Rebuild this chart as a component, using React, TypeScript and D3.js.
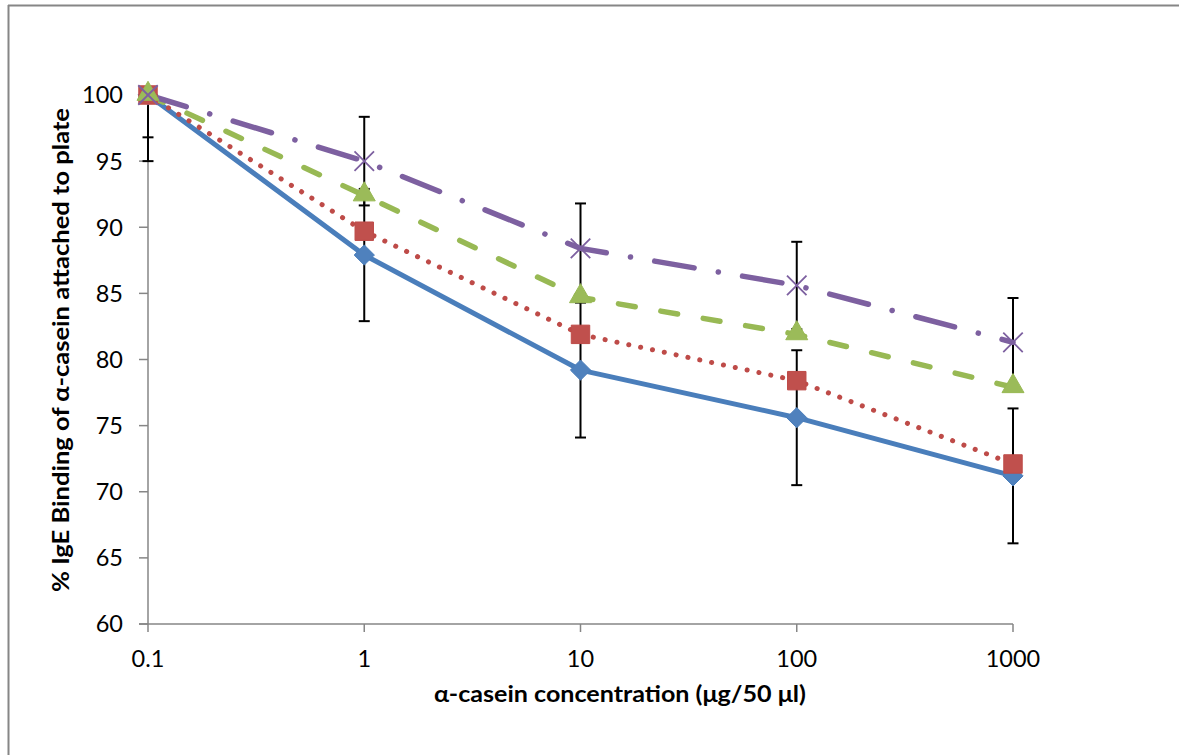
import React from "react";
import * as d3 from "d3";

const concentrations = [0.1, 1, 10, 100, 1000];
const blueValues = [100, 87.9, 79.2, 75.6, 71.2];
const redValues = [100, 89.7, 81.9, 78.4, 72.1];
const greenValues = [100, 92.4, 84.7, 81.9, 77.9];
const purpleValues = [100, 95.0, 88.4, 85.6, 81.3];
const blueErrors = [5.0, 5.0, 5.1, 5.1, 5.1];
const purpleErrors = [3.2, 3.35, 3.4, 3.3, 3.35];
const yTicks = [60, 65, 70, 75, 80, 85, 90, 95, 100];
const xTickLabels = ["0.1", "1", "10", "100", "1000"];
const xTitle = "α-casein concentration (μg/50 μl)";
const yTitle = "% IgE Binding of α-casein attached to plate";

const W = 1179;
const H = 755;
const FONT = "Lato, 'Open Sans', sans-serif";

export default function App() {
  const x = d3.scaleLog().domain([0.1, 1000]).range([148, 1013]);
  const y = d3.scaleLinear().domain([60, 100]).range([624, 95]);
  const line = d3
    .line<number>()
    .x((_, i) => x(concentrations[i]))
    .y((d) => y(d));

  const axisColor = "#868686";

  const errorBars = (vals: number[], errs: number[], key: string) =>
    vals.map((v, i) => {
      const cx = x(concentrations[i]);
      const yt = y(v + errs[i]);
      const yb = y(v - errs[i]);
      return (
        <g key={key + i} stroke="#000" strokeWidth={2}>
          <line x1={cx} x2={cx} y1={yt} y2={yb} />
          {v + errs[i] <= 100 && <line x1={cx - 5.5} x2={cx + 5.5} y1={yt} y2={yt} />}
          <line x1={cx - 5.5} x2={cx + 5.5} y1={yb} y2={yb} />
        </g>
      );
    });

  const diamond = d3.symbol().type(d3.symbolDiamond2).size(260)();
  const square = d3.symbol().type(d3.symbolSquare).size(340)();
  const triangle = d3.symbol().type(d3.symbolTriangle).size(210)();
  const cross = d3.symbol().type(d3.symbolX).size(250)();

  return (
    <svg width={W} height={H} style={{ position: "absolute", left: 0, top: 0 }}>
      <rect x={0} y={0} width={W} height={H} fill="#fff" />
      <line x1={8} x2={W} y1={5.5} y2={5.5} stroke={axisColor} strokeWidth={2} />
      <line x1={8.5} x2={8.5} y1={5} y2={H} stroke={axisColor} strokeWidth={2} />

      {/* axes */}
      <line x1={148} x2={148} y1={95} y2={624} stroke={axisColor} strokeWidth={1.5} />
      <line x1={139} x2={1013} y1={624} y2={624} stroke={axisColor} strokeWidth={1.5} />
      {yTicks.map((t) => (
        <g key={"yt" + t}>
          <line x1={139} x2={148} y1={y(t)} y2={y(t)} stroke={axisColor} strokeWidth={1.5} />
          <text
            x={123}
            y={y(t)}
            dy="0.36em"
            textAnchor="end"
            fontFamily={FONT}
            fontSize={23.5}
            fill="#000"
          >
            {t}
          </text>
        </g>
      ))}
      {concentrations.map((c, i) => (
        <g key={"xt" + c}>
          <line x1={x(c)} x2={x(c)} y1={624} y2={632} stroke={axisColor} strokeWidth={1.5} />
          <text x={x(c)} y={667} textAnchor="middle" fontFamily={FONT} fontSize={23.5} fill="#000">
            {xTickLabels[i]}
          </text>
        </g>
      ))}

      <text
        x={620}
        y={702}
        textAnchor="middle"
        fontFamily={FONT}
        fontWeight="bold"
        fontSize={23}
        textLength={372}
        lengthAdjust="spacingAndGlyphs"
        fill="#000"
      >
        {xTitle}
      </text>
      <text
        transform={`translate(69,350) rotate(-90)`}
        textAnchor="middle"
        fontFamily={FONT}
        fontWeight="bold"
        fontSize={23}
        textLength={484}
        lengthAdjust="spacingAndGlyphs"
        fill="#000"
      >
        {yTitle}
      </text>

      <defs>
        <clipPath id="plotClip">
          <rect x={100} y={95} width={1000} height={529} />
        </clipPath>
      </defs>

      <g clipPath="url(#plotClip)">
        {errorBars(blueValues, blueErrors, "be")}
        {errorBars(purpleValues, purpleErrors, "pe")}
      </g>

      {/* series lines */}
      <path d={line(blueValues) || ""} fill="none" stroke="#4A7EBB" strokeWidth={5} strokeLinejoin="round" />
      <path
        d={line(redValues) || ""}
        fill="none"
        stroke="#BE4B48"
        strokeWidth={5}
        strokeDasharray="0.1 12"
        strokeLinecap="round"
      />
      <path
        d={line(greenValues) || ""}
        fill="none"
        stroke="#98B954"
        strokeWidth={5.5}
        strokeDasharray="17 26"
        strokeLinecap="round"
      />
      <path
        d={line(purpleValues) || ""}
        fill="none"
        stroke="#7D60A0"
        strokeWidth={5.5}
        strokeDasharray="40 24.5 0.1 24.5"
        strokeLinecap="round"
      />

      {/* markers */}
      {blueValues.map((v, i) => (
        <path
          key={"bm" + i}
          d={diamond || ""}
          transform={`translate(${x(concentrations[i])},${y(v)})`}
          fill="#4F81BD"
          stroke="#4A7EBB"
          strokeWidth={1}
        />
      ))}
      {redValues.map((v, i) => (
        <path
          key={"rm" + i}
          d={square || ""}
          transform={`translate(${x(concentrations[i])},${y(v)})`}
          fill="#C0504D"
          stroke="#BE4B48"
          strokeWidth={1}
        />
      ))}
      {greenValues.map((v, i) => (
        <path
          key={"gm" + i}
          d={triangle || ""}
          transform={`translate(${x(concentrations[i])},${y(v) - 1})`}
          fill="#9BBB59"
          stroke="#98B954"
          strokeWidth={1}
        />
      ))}
      {purpleValues.map((v, i) => (
        <path
          key={"pm" + i}
          d={cross || ""}
          transform={`translate(${x(concentrations[i])},${y(v)})`}
          fill="none"
          stroke="#7D60A0"
          strokeWidth={1.8}
        />
      ))}
    </svg>
  );
}
